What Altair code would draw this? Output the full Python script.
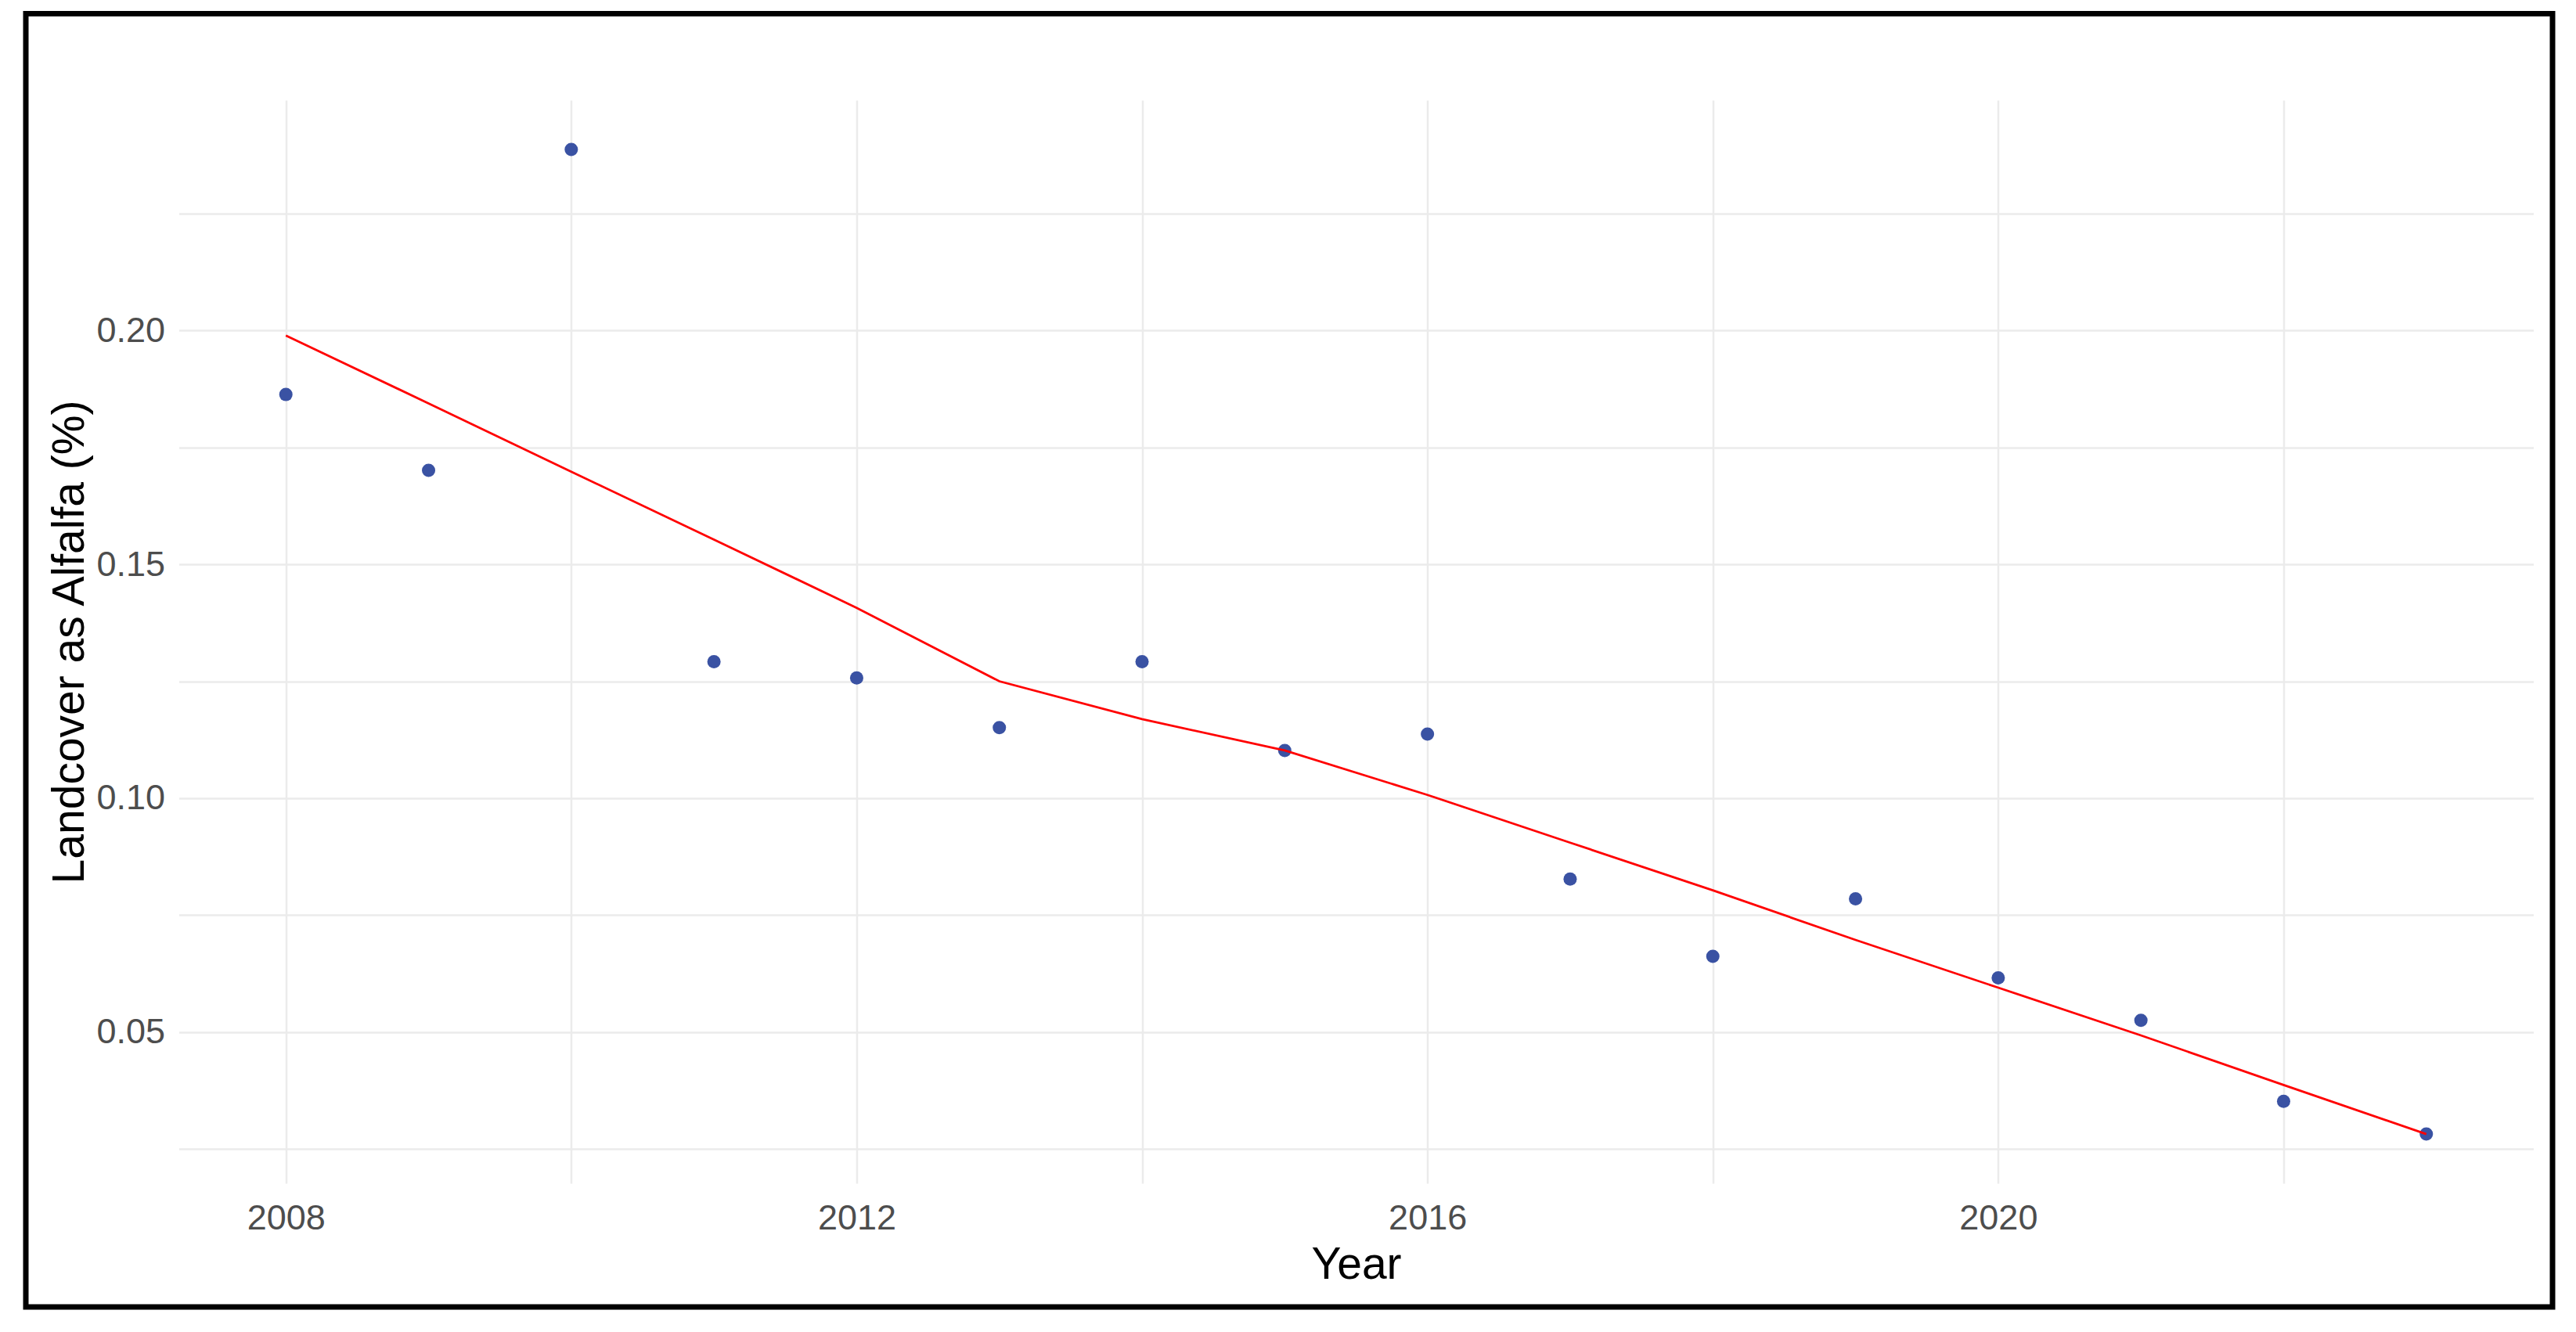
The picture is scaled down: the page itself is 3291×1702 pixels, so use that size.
import altair as alt
import pandas as pd

years = list(range(2008, 2024))
alfalfa = [0.1863, 0.1701, 0.2387, 0.1292, 0.1257, 0.1151, 0.1292, 0.1102,
           0.1137, 0.0827, 0.0662, 0.0785, 0.0616, 0.0525, 0.0352, 0.0282]
smooth = [0.1989, 0.1844, 0.1698, 0.1553, 0.1407, 0.1250, 0.1169, 0.1102,
          0.1007, 0.0905, 0.0803, 0.0697, 0.0595, 0.0493, 0.0387, 0.0282]

x_grid = [2008, 2010, 2012, 2014, 2016, 2018, 2020, 2022]
y_grid = [0.025, 0.05, 0.075, 0.10, 0.125, 0.15, 0.175, 0.20, 0.225]

df = pd.DataFrame({"Year": years, "Alfalfa": alfalfa, "Smooth": smooth})

ymin, ymax = min(alfalfa), max(alfalfa)
yexp = (ymax - ymin) * 0.05
xexp = (max(years) - min(years)) * 0.05

FONT = "Liberation Sans"
W, H = 3008, 1384

xscale = alt.Scale(domain=[min(years) - xexp, max(years) + xexp], nice=False, zero=False)
yscale = alt.Scale(domain=[ymin - yexp, ymax + yexp], nice=False, zero=False)

xaxis = alt.Axis(values=x_grid, labelExpr="datum.value % 4 == 0 ? format(datum.value, 'd') : ''",
                 title="Year", titleFontSize=57, titleFont=FONT, titleFontWeight="normal",
                 titleColor="#000000", labelFontSize=45, labelFont=FONT, labelColor="#4D4D4D",
                 labelPadding=22, titlePadding=9, ticks=False, domain=False,
                 gridColor="#EBEBEB", gridWidth=2.5, labelFlush=False)
yaxis = alt.Axis(values=y_grid,
                 labelExpr="abs(datum.value*20 - round(datum.value*20)) < 0.001 ? format(datum.value, '.2f') : ''",
                 title="Landcover as Alfalfa (%)", titleFontSize=57, titleFont=FONT,
                 titleFontWeight="normal", titleColor="#000000", labelFontSize=45,
                 labelFont=FONT, labelColor="#4D4D4D", labelPadding=18, titlePadding=4,
                 ticks=False, domain=False, gridColor="#EBEBEB", gridWidth=2.5, labelFlush=False)

base = alt.Chart(df)
points = base.mark_circle(size=290, color="#3A52A3", opacity=1).encode(
    x=alt.X("Year:Q", scale=xscale, axis=xaxis),
    y=alt.Y("Alfalfa:Q", scale=yscale, axis=yaxis),
)
line = base.mark_line(color="#FF0000", strokeWidth=2.8).encode(
    x=alt.X("Year:Q", scale=xscale),
    y=alt.Y("Smooth:Q", scale=yscale),
)
frame = alt.Chart(alt.Data(values=[{"a": 1}])).mark_rect(
    fillOpacity=0, stroke="#000000", strokeWidth=7
).encode(
    x=alt.value(-195.5), x2=alt.value(3032.5), y=alt.value(-110.5), y2=alt.value(1542)
)

chart = alt.layer(points, line, frame).properties(
    width=W, height=H,
    autosize=alt.AutoSizeParams(type="none"),
    padding={"left": 220.5, "top": 120, "right": 40, "bottom": 170},
    background="white",
).configure_view(stroke=None)

chart.save("out.html", embed_options={"renderer": "svg", "actions": False})
